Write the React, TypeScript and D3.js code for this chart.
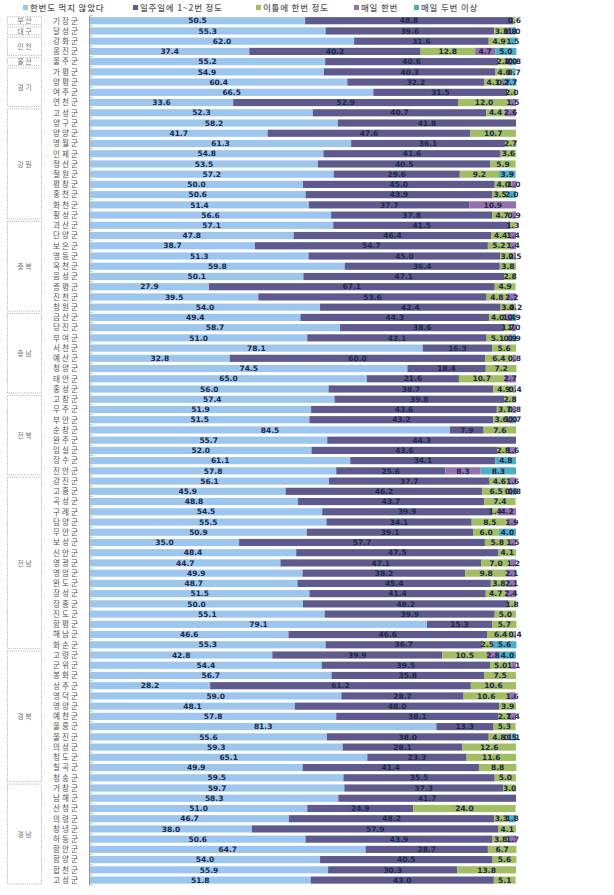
import React from "react";
import * as d3 from "d3";

const seriesNames = ["한번도 먹지 않았다", "일주일에 1~2번 정도", "이틀에 한번 정도", "매일 한번", "매일 두번 이상"];
const colors = ["#9DC6EE", "#5E5A8E", "#A2BE63", "#9470B0", "#4DAFC7"];

const counties = [
  "기장군","달성군","강화군","옹진군","울주군","가평군","양평군","여주군","연천군",
  "고성군","양구군","양양군","영월군","인제군","정선군","철원군","평창군","홍천군","화천군","횡성군",
  "괴산군","단양군","보은군","영동군","옥천군","음성군","증평군","진천군","청원군",
  "금산군","당진군","부여군","서천군","예산군","청양군","태안군","홍성군",
  "고창군","무주군","부안군","순창군","완주군","임실군","장수군","진안군",
  "강진군","고흥군","곡성군","구례군","담양군","무안군","보성군","신안군","영광군","영암군","완도군","장성군","장흥군","진도군","함평군","해남군","화순군",
  "고령군","군위군","봉화군","성주군","영덕군","영양군","예천군","울릉군","울진군","의성군","청도군","칠곡군","청송군",
  "거창군","남해군","산청군","의령군","창녕군","하동군","함안군","함양군","합천군","고성군"
];

const never = [
  50.5,55.3,62.0,37.4,55.2,54.9,60.4,66.5,33.6,
  52.3,58.2,41.7,61.3,54.8,53.5,57.2,50.0,50.6,51.4,56.6,
  57.1,47.8,38.7,51.3,59.8,50.1,27.9,39.5,54.0,
  49.4,58.7,51.0,78.1,32.8,74.5,65.0,56.0,
  57.4,51.9,51.5,84.5,55.7,52.0,61.1,57.8,
  56.1,45.9,48.8,54.5,55.5,50.9,35.0,48.4,44.7,49.9,48.7,51.5,50.0,55.1,79.1,46.6,55.3,
  42.8,54.4,56.7,28.2,59.0,48.1,57.8,81.3,55.6,59.3,65.1,49.9,59.5,
  59.7,58.3,51.0,46.7,38.0,50.6,64.7,54.0,55.9,51.8
];
const weekly = [
  48.8,39.6,31.6,40.2,40.6,40.3,32.2,31.5,52.9,
  40.7,41.8,47.6,36.1,41.6,40.5,29.6,45.0,43.9,37.7,37.8,
  41.5,46.4,54.7,45.0,36.4,47.1,67.1,53.6,42.4,
  44.3,38.6,42.1,16.3,60.0,18.4,21.6,38.7,
  39.8,43.6,43.2,7.9,44.3,43.6,34.1,25.6,
  37.7,46.2,43.7,39.9,34.1,39.1,57.7,47.5,47.1,38.2,45.4,41.4,48.2,39.9,15.3,46.6,36.7,
  39.9,39.5,35.8,61.2,28.7,48.0,38.1,13.3,38.0,28.1,23.3,41.4,35.5,
  37.3,41.7,24.9,48.2,57.9,43.9,28.7,40.5,30.3,43.0
];
const everyTwoDays = [
  0.6,3.3,4.9,12.8,2.4,4.0,4.1,2.0,12.0,
  4.4,0,10.7,2.7,3.6,5.9,9.2,4.0,3.5,0,4.7,
  1.3,4.4,5.2,3.2,3.8,2.8,4.9,4.8,3.4,
  4.0,1.7,5.1,5.6,6.4,7.2,10.7,4.9,
  2.8,3.7,3.6,7.6,0,2.8,0,0,
  4.6,6.5,7.4,1.4,8.5,6.0,5.8,4.1,7.0,9.8,3.8,4.7,1.8,5.0,5.7,6.4,2.5,
  10.5,5.0,7.5,10.6,10.6,3.9,2.7,5.3,4.8,12.6,11.6,8.8,5.0,
  3.0,0,24.0,3.3,4.1,3.8,6.7,5.6,13.8,5.1
];
const daily = [
  0,0.8,0,4.7,1.0,0,0.7,0,1.5,
  2.6,0,0,0,0,0,0,1.0,0,10.9,0.9,
  0,1.4,1.4,0.5,0,0,0,2.2,0.2,
  1.4,1.0,0.9,0,0.8,0,2.7,0.4,
  0,0.8,1.0,0,0,1.6,0,8.3,
  1.6,0.6,0,4.2,1.9,0,1.5,0,1.2,2.1,2.1,2.4,0,0,0,0.4,0,
  2.8,1.1,0,0,1.6,0,1.4,0,0.5,0,0,0,0,
  0,0,0,0,0,1.7,0,0,0,0
];
const twiceDaily = [
  0,1.0,1.5,5.0,0.8,0.7,2.7,0,0,
  0,0,0,0,0,0,3.9,0,2.0,0,0,
  0,0,0,0,0,0,0,0,0,
  0.9,0,0.9,0,0,0,0,0,
  0,0,0.7,0,0,0,4.8,8.3,
  0,0.8,0,0,0,4.0,0,0,0,0,0,0,0,0,0,0,5.6,
  4.0,0,0,0,0,0,0,0,1.1,0,0,0,0,
  0,0,0,1.8,0,0,0,0,0,0
];

const provinces = ["부 산","대 구","인 천","울 산","경 기","강 원","충 북","충 남","전 북","전 남","경 북","경 남"];
const provinceCounts = [1,1,2,1,4,11,9,8,8,17,13,10];

const W = 614, H = 895;
const top = 15.6, bottom = 885.2;
const x0 = 90, x1 = 516;

export default function App() {
  const series = [never, weekly, everyTwoDays, daily, twiceDaily];
  const idx = counties.map((_, i) => i);
  const y = d3.scaleBand<number>().domain(idx).range([top, bottom]).paddingInner(0.3).paddingOuter(0.15);
  const x = d3.scaleLinear().domain([0, 100]).range([x0, x1]);
  const step = y.step();

  const rows = idx.map(i => series.map(s => s[i]));
  const stacked = rows.map(vals => {
    let acc = 0;
    return vals.map(v => { const s = acc; acc += v; return [s, acc, v]; });
  });

  let cum = 0;
  const groups = provinces.map((p, k) => {
    const start = cum; cum += provinceCounts[k];
    return { name: p, start, end: cum };
  });

  const legendX = [23, 133, 256, 354, 414];

  return (
    <svg width={W} height={H} style={{ position: "absolute", left: 0, top: 0, background: "#fff" }}
      fontFamily="'Noto Sans CJK KR', sans-serif">
      {/* legend */}
      {seriesNames.map((n, k) => (
        <g key={n} transform={`translate(${legendX[k]},0)`}>
          <rect x={0} y={5} width={5} height={5} fill={colors[k]} />
          <text x={7} y={10.8} fontSize={8.5} fill="#555" fontWeight={500} letterSpacing={0.8}>{n}</text>
        </g>
      ))}
      {/* province boxes */}
      {groups.map(g => {
        const ya = top + g.start * step + 1.2;
        const yb = top + g.end * step - 1.2;
        return (
          <g key={g.name + g.start}>
            <rect x={7.5} y={ya} width={34} height={yb - ya} fill="none" stroke="#999" strokeWidth={0.8} strokeDasharray="1,1.2" />
            <text x={24.5} y={(ya + yb) / 2 + 2.6} fontSize={7} fill="#777" textAnchor="middle">{g.name}</text>
          </g>
        );
      })}
      {/* county labels */}
      {counties.map((c, i) => (
        <text key={"c" + i} x={80} y={(y(i) as number) + y.bandwidth() / 2 + 2.8} fontSize={7.6} fill="#555" textAnchor="end" letterSpacing={2}>{c}</text>
      ))}
      {/* bars */}
      {stacked.map((segs, i) => (
        <g key={"r" + i}>
          {segs.map(([a, b, v], k) => v > 0 ? (
            <rect key={k} x={x(a)} y={y(i) as number} width={x(b) - x(a)} height={y.bandwidth()} fill={colors[k]} />
          ) : null)}
          {segs.map(([a, b, v], k) => v > 0 ? (
            <text key={"t" + k} x={(x(a) + x(b)) / 2} y={(y(i) as number) + y.bandwidth() / 2 + 2.7}
              fontSize={7.5} fontWeight="bold" fontFamily="'DejaVu Sans', sans-serif" fill="#1B2A4A" textAnchor="middle">{v.toFixed(1)}</text>
          ) : null)}
        </g>
      ))}
      {/* axis */}
      <line x1={x0 - 0.5} x2={x0 - 0.5} y1={top} y2={bottom} stroke="#777" strokeWidth={0.8} />
      {d3.range(counties.length + 1).map(i => (
        <line key={"tk" + i} x1={x0} x2={x0 + 3} y1={top + i * step} y2={top + i * step} stroke="#999" strokeWidth={0.6} />
      ))}
    </svg>
  );
}
